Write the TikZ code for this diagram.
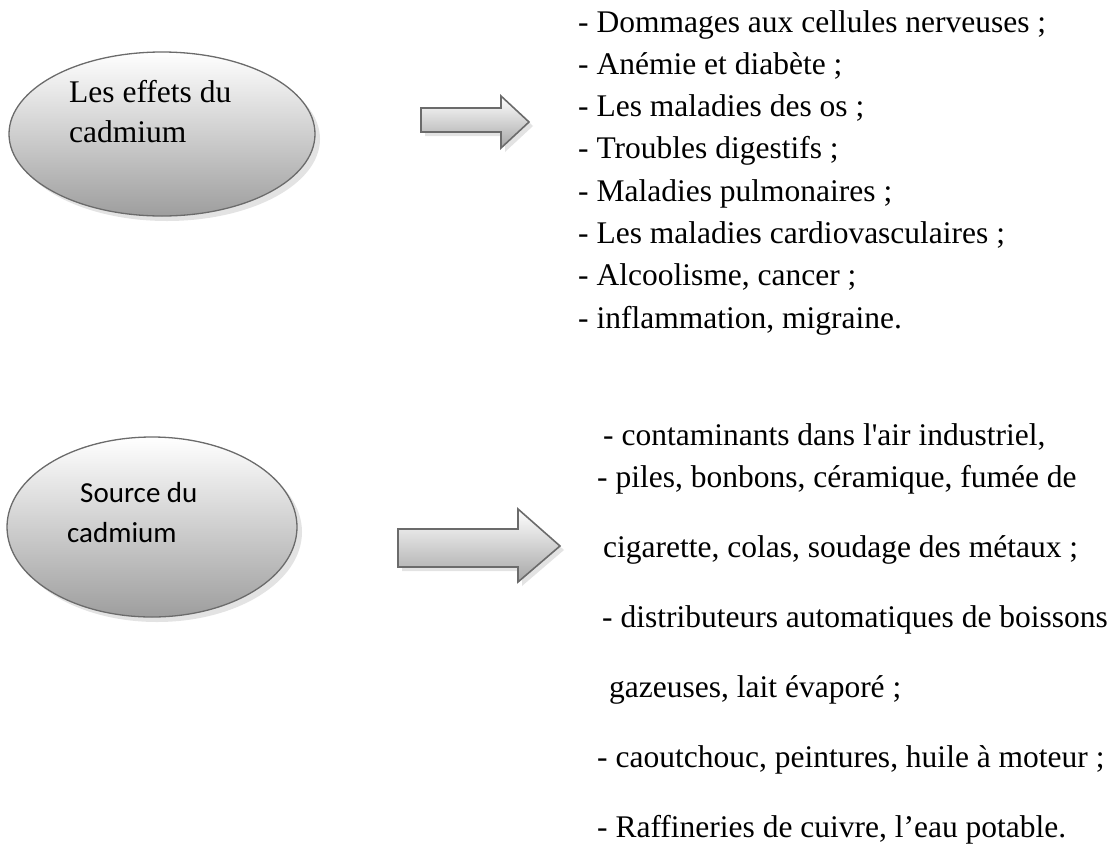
\documentclass[tikz,border=0pt]{standalone}
\usepackage{fontspec}
\setmainfont{Liberation Serif}
\newfontfamily\listefont{Liberation Serif}
\newfontfamily\calibrifont{Carlito}
\usetikzlibrary{shapes.geometric,shadows}

\begin{document}
\begin{tikzpicture}[x=1pt,y=-1pt,
		bulle/.style={ellipse, draw=black!58, line width=1.3pt, top color=white, bottom color=black!38,
			drop shadow={opacity=0.22, shadow xshift=5pt, shadow yshift=-5pt}},
		fleche/.style={draw=black!58, line width=1.6pt, line join=miter, top color=white, bottom color=black!35,
			drop shadow={opacity=0.22, shadow xshift=4pt, shadow yshift=-4pt}},
		ligne/.style={anchor=base west, inner sep=0pt, font=\listefont\fontsize{31.5}{38}\selectfont}]
		\useasboundingbox (0,0) rectangle (1117,844);

		% les deux bulles
		\node[bulle, minimum width=306pt, minimum height=164pt] (effets) at (162,134) {};
		\node[bulle, minimum width=290pt, minimum height=180pt] (source) at (152,527) {};
		\node[ligne] (effets1) at (69,102) {Les effets du};
		\node[ligne] (effets2) at (69,142) {cadmium};
		\node[ligne, font=\calibrifont\fontsize{29}{34}\selectfont] (source1) at (80,502) {Source du};
		\node[ligne, font=\calibrifont\fontsize{29}{34}\selectfont] (source2) at (67,542) {cadmium};

		% les fleches
		\draw[fleche] (421,108) -- (501,108) -- (501,96) -- (529,122) -- (501,148) -- (501,132) -- (421,132) -- cycle;
		\draw[fleche] (398,529) -- (518,529) -- (518,509) -- (560,546) -- (518,582) -- (518,567) -- (398,567) -- cycle;

		% les effets
		\node[ligne] (e1) at (578,32) {- Dommages aux cellules nerveuses ;};
		\node[ligne] (e2) at (578,74.3) {- Anémie et diabète ;};
		\node[ligne] (e3) at (578,116.6) {- Les maladies des os ;};
		\node[ligne] (e4) at (578,158.9) {- Troubles digestifs ;};
		\node[ligne] (e5) at (578,201.2) {- Maladies pulmonaires ;};
		\node[ligne] (e6) at (578,243.5) {- Les maladies cardiovasculaires ;};
		\node[ligne] (e7) at (578,285.8) {- Alcoolisme, cancer ;};
		\node[ligne] (e8) at (578,328.1) {- inflammation, migraine.};

		% les sources
		\node[ligne] (s1) at (603,445) {- contaminants dans l'air industriel,};
		\node[ligne] (s2) at (597,487) {- piles, bonbons, céramique, fumée de};
		\node[ligne] (s3) at (603,557) {cigarette, colas, soudage des métaux ;};
		\node[ligne] (s4) at (602,627) {- distributeurs automatiques de boissons};
		\node[ligne] (s5) at (609,697) {gazeuses, lait évaporé ;};
		\node[ligne] (s6) at (597,767) {- caoutchouc, peintures, huile à moteur ;};
		\node[ligne] (s7) at (597,837) {- Raffineries de cuivre, l’eau potable.};
	\end{tikzpicture}
\end{document}
